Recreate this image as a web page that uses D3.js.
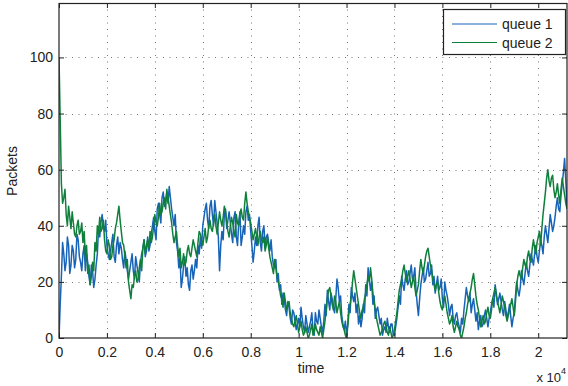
<!DOCTYPE html>
<html>
<head>
<meta charset="utf-8">
<script src="https://cdn.jsdelivr.net/npm/d3@7/dist/d3.min.js"></script>
<style>
  html, body { margin: 0; padding: 0; background: #fff; }
  svg { display: block; font-family: "Liberation Sans", Arial, Helvetica, sans-serif; }
</style>
</head>
<body>
<svg id="chart" width="568" height="386"></svg>
<script>
// Queue occupancy samples, one every 50 time units starting at t = 0
const sampleStep = 50;

const queue1 = [
  0,12, 22,34, 30,24, 27,36, 33,23, 26,33, 31,25, 28,37, 35,29, 27,24,
  30,33, 24,30, 27,22, 19,26, 24,18, 21,26, 30,39, 36,41, 44,40, 38,42,
  33,30, 28,31, 34,37, 29,27, 33,36, 30,34, 32,28, 25,31, 28,24, 21,24,
  27,30, 24,21, 29,26, 23,20, 27,30, 32,35, 29,31, 36,31, 33,37, 40,43,
  38,35, 46,48, 44,41, 50,52, 47,49, 52,48, 54,50, 46,43, 40,44, 34,31,
  25,29, 18,21, 26,29, 22,25, 19,17, 24,26, 21,24, 28,25, 33,30, 36,32,
  40,43, 46,48, 42,39, 47,49, 44,40, 49,45, 41,36, 24,33, 38,35, 44,46,
  39,42, 45,41, 37,34, 43,45, 36,33, 41,45, 33,36, 40,37, 45,47, 42,44,
  38,33, 27,31, 36,33, 40,43, 34,31, 38,40, 33,36, 37,34, 31,35, 29,26,
  25,28, 20,23, 17,19, 12,16, 14,10, 8,13, 11,7, 5,10, 9,6, 3,5,
  7,4, 11,7, 4,2, 8,5, 2,4, 6,9, 3,1, 9,6, 5,10, 7,4,
  2,6, 12,8, 17,13, 10,16, 14,11, 9,14, 21,18, 13,15, 8,5, 3,6,
  1,5, 12,9, 18,15, 13,16, 9,12, 5,8, 4,7, 12,9, 19,15, 25,21,
  17,20, 12,15, 7,10, 11,8, 5,7, 1,3, 4,2, 7,4, 2,5, 5,1,
  1,4, 7,11, 15,12, 22,19, 17,21, 24,19, 20,23, 26,21, 22,25, 17,12,
  8,14, 19,22, 25,20, 21,24, 27,22, 23,26, 19,22, 16,19, 22,17, 18,21,
  14,11, 20,17, 15,12, 8,11, 12,7, 5,8, 9,6, 4,2, 7,5, 10,14,
  18,15, 13,16, 9,12, 14,10, 6,9, 3,6, 8,4, 5,8, 10,7, 4,7,
  9,12, 14,11, 19,16, 12,14, 16,13, 10,8, 13,10, 7,9, 12,8, 4,7,
  9,15, 20,17, 15,18, 24,21, 19,23, 27,24, 22,26, 30,28, 26,30, 33,29,
  27,31, 35,33, 30,36, 40,37, 34,39, 44,41, 38,40, 43,47, 50,46, 45,51,
  55,59, 64,56, 47
];

const queue2 = [
  100,78, 55,48, 50,53, 44,40, 47,43, 39,45, 41,37, 36,40, 42,37, 38,41,
  34,38, 29,33, 23,26, 19,22, 27,24, 34,31, 40,37, 43,38, 39,42, 35,31,
  30,35, 33,28, 29,33, 35,39, 41,44, 47,42, 38,34, 33,29, 25,28, 20,17,
  14,19, 18,22, 24,20, 21,25, 28,24, 32,35, 30,33, 35,32, 38,34, 36,40,
  44,41, 40,43, 48,44, 45,48, 50,46, 53,50, 47,44, 41,37, 34,36, 38,33,
  29,32, 25,27, 30,26, 27,31, 33,30, 29,32, 35,33, 31,29, 34,38, 37,35,
  33,36, 39,34, 36,40, 42,39, 38,41, 44,40, 37,41, 45,42, 40,43, 47,45,
  41,38, 36,40, 43,41, 38,36, 44,41, 40,44, 46,43, 42,48, 52,48, 45,43,
  41,38, 35,37, 39,36, 33,36, 38,35, 34,36, 31,33, 36,32, 29,27, 25,23,
  28,25, 22,20, 18,15, 14,11, 16,13, 10,12, 13,9, 7,5, 4,6, 8,5,
  2,4, 6,3, 1,2, 4,2, 0,1, 3,5, 1,2, 5,3, 2,1, 4,2,
  0,3, 6,10, 14,17, 18,15, 12,10, 15,13, 9,11, 13,9, 6,4, 3,1,
  0,4, 9,12, 15,20, 24,21, 18,15, 12,9, 7,10, 11,14, 16,19, 22,20,
  25,21, 16,13, 10,7, 5,3, 1,2, 3,5, 6,4, 2,1, 4,2, 0,1,
  3,6, 9,13, 17,19, 21,24, 26,23, 20,22, 24,21, 18,20, 22,18, 15,17,
  19,24, 28,25, 23,26, 29,31, 32,29, 26,24, 21,19, 17,19, 20,16, 13,11,
  10,13, 15,12, 9,7, 5,6, 8,4, 2,4, 6,4, 3,1, 0,2, 4,7,
  9,12, 14,16, 18,21, 23,19, 15,12, 10,7, 4,6, 8,5, 6,9, 11,8,
  7,10, 14,16, 18,15, 13,11, 9,12, 15,13, 11,8, 6,8, 10,12, 14,11,
  8,13, 19,22, 24,22, 21,25, 28,26, 25,29, 31,28, 27,32, 35,32, 30,34,
  36,38, 33,39, 44,48, 52,57, 60,56, 54,57, 58,53, 50,52, 55,51, 48,53,
  57,54, 51,48, 46
];

const seriesNames = ["queue 1", "queue 2"];
const seriesColors = ["#1763b8", "#0f7f3c"];
const xTicks = [0, 2000, 4000, 6000, 8000, 10000, 12000, 14000, 16000, 18000, 20000];
const yTicks = [0, 20, 40, 60, 80, 100];
const xMax = 21200;
const yMax = 119.4;

const svg = d3.select("#chart");
const plot = { left: 59, right: 567, top: 3, bottom: 338 };

const x = d3.scaleLinear().domain([0, xMax]).range([plot.left, plot.right]);
const y = d3.scaleLinear().domain([0, yMax]).range([plot.bottom, plot.top]);

// dotted grid
const grid = svg.append("g").attr("stroke", "#777").attr("stroke-width", 1)
  .attr("stroke-dasharray", "1,5.5");
grid.selectAll(".gx").data(xTicks.slice(1)).join("line")
  .attr("x1", d => Math.round(x(d)) + 0.5).attr("x2", d => Math.round(x(d)) + 0.5)
  .attr("y1", plot.top).attr("y2", plot.bottom);
grid.selectAll(".gy").data(yTicks.slice(1)).join("line")
  .attr("y1", d => Math.round(y(d)) + 0.5).attr("y2", d => Math.round(y(d)) + 0.5)
  .attr("x1", plot.left).attr("x2", plot.right);

// data lines
const series = [queue1, queue2];
const line = d3.line()
  .x((d, i) => x(i * sampleStep))
  .y(d => y(d));

svg.append("clipPath").attr("id", "plotclip").append("rect")
  .attr("x", plot.left).attr("y", plot.top)
  .attr("width", plot.right - plot.left).attr("height", plot.bottom - plot.top);

svg.append("g").attr("clip-path", "url(#plotclip)")
  .selectAll("path").data(series).join("path")
  .attr("d", d => line(d))
  .attr("fill", "none")
  .attr("stroke", (d, i) => seriesColors[i])
  .attr("stroke-width", 1.5)
  .attr("stroke-linejoin", "round");

// axes: ticks point inward, mirrored on the opposite side
const tickLen = 5;
const axB = d3.axisBottom(x).tickValues(xTicks).tickSizeInner(-tickLen).tickSizeOuter(0)
  .tickPadding(9).tickFormat(d => d3.format("")(d / 10000));
const axT = d3.axisTop(x).tickValues(xTicks).tickSizeInner(-tickLen).tickSizeOuter(0).tickFormat("");
const axL = d3.axisLeft(y).tickValues(yTicks).tickSizeInner(-tickLen).tickSizeOuter(0).tickPadding(6);
const axR = d3.axisRight(y).tickValues(yTicks).tickSizeInner(-tickLen).tickSizeOuter(0).tickFormat("");

function styleAxis(g) {
  g.select(".domain").remove();
  g.selectAll("line").attr("stroke", "#222");
  g.selectAll("text").attr("fill", "#222").style("font-size", "14px")
    .style("font-family", "'Liberation Sans', Arial, sans-serif");
}
svg.append("g").attr("transform", `translate(0,${plot.bottom})`).call(axB).call(styleAxis);
svg.append("g").attr("transform", `translate(0,${plot.top})`).call(axT).call(styleAxis);
svg.append("g").attr("transform", `translate(${plot.left},0)`).call(axL).call(styleAxis);
svg.append("g").attr("transform", `translate(${plot.right},0)`).call(axR).call(styleAxis);

// frame
svg.append("rect")
  .attr("x", plot.left).attr("y", plot.top + 0.5)
  .attr("width", plot.right - plot.left).attr("height", plot.bottom - plot.top - 0.5)
  .attr("fill", "none").attr("stroke", "#222").attr("stroke-width", 1.2);

// axis labels
svg.append("text").attr("x", 311).attr("y", 373).attr("text-anchor", "middle")
  .style("font-size", "14px").attr("fill", "#222").text("time");
svg.append("text").attr("transform", "translate(17,171) rotate(-90)")
  .attr("text-anchor", "middle").style("font-size", "14px").attr("fill", "#222").text("Packets");
const mult = svg.append("text").attr("x", 566).attr("y", 382).attr("text-anchor", "end")
  .style("font-size", "13px").attr("fill", "#222");
mult.append("tspan").text("x 10");
mult.append("tspan").attr("dy", -8).style("font-size", "9px").text("4");

// legend
const lg = svg.append("g");
lg.append("rect").attr("x", 443.5).attr("y", 9.5).attr("width", 122).attr("height", 45)
  .attr("fill", "#fff").attr("stroke", "#222").attr("stroke-width", 1.2);
seriesNames.forEach((name, i) => {
  const ly = 24 + i * 18.5;
  lg.append("line").attr("x1", 452).attr("x2", 497).attr("y1", ly).attr("y2", ly)
    .attr("stroke", seriesColors[i]).attr("stroke-width", 1.2);
  lg.append("text").attr("x", 502).attr("y", ly + 5).style("font-size", "14px")
    .attr("fill", "#222").text(name);
});
</script>
</body>
</html>
